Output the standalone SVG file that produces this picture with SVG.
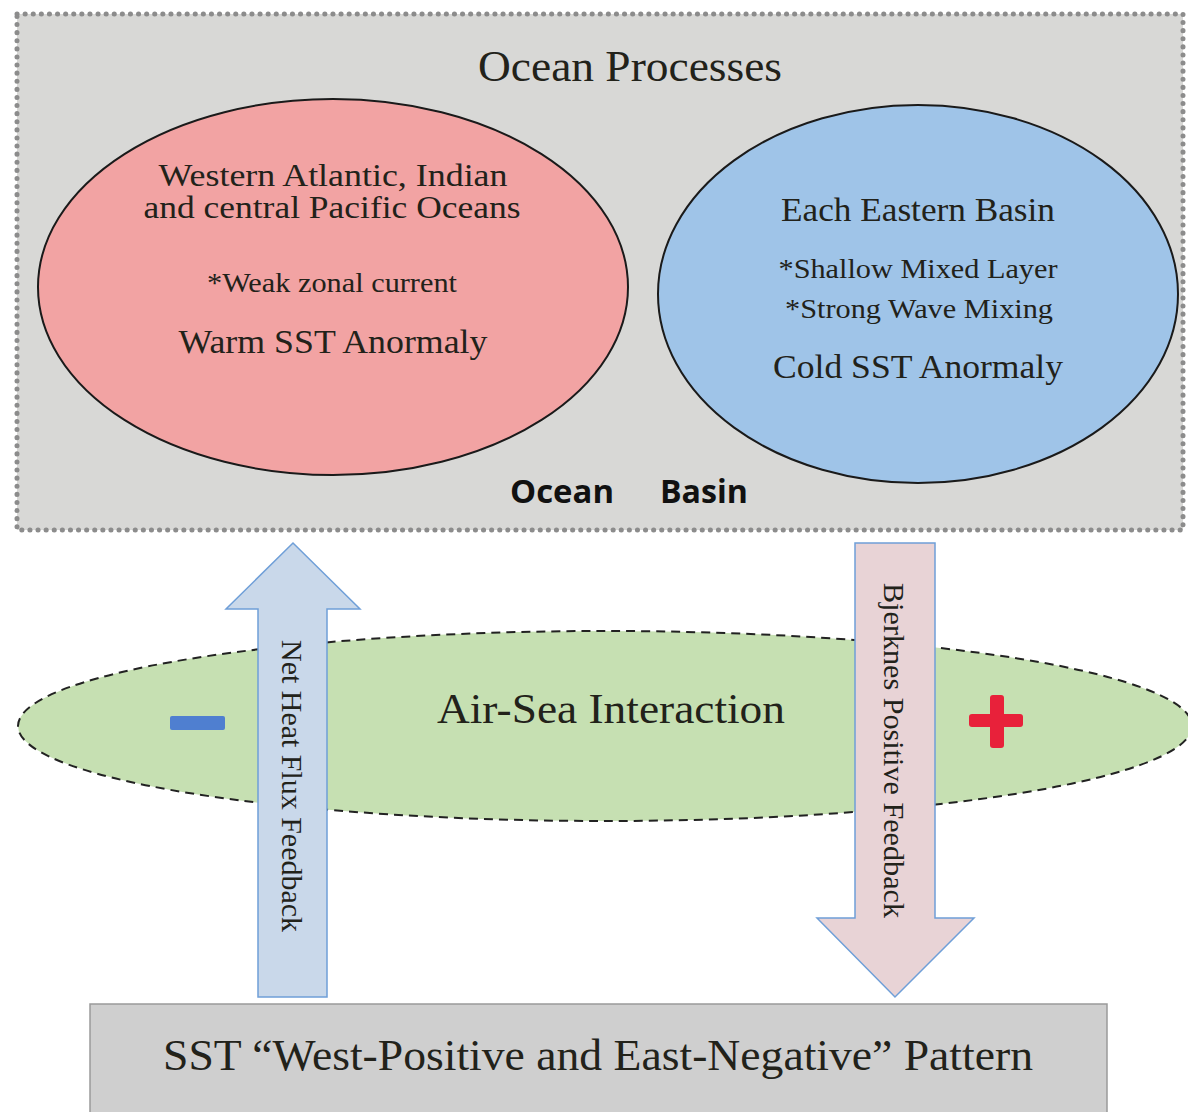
<svg xmlns="http://www.w3.org/2000/svg" width="1188" height="1112" viewBox="0 0 1188 1112">
<defs>
<style>
.serif{font-family:"Liberation Serif","Times New Roman",serif;fill:#22221a}
.ell{stroke:#1a1a1a;stroke-width:2}
.arrow{stroke:#6f9fd8;stroke-width:1.5}
.bold{font-family:"Open Sans","Liberation Sans",sans-serif;font-weight:bold;fill:#111}
</style>
</defs>
<rect width="1188" height="1112" fill="#ffffff"/>
<g id="ocean-processes">
<rect x="17" y="14" width="1166" height="516" fill="#d8d8d6" stroke="#8c8c8c" stroke-width="5" stroke-dasharray="0.1 8" stroke-linecap="round"/>
<text class="serif" x="630" y="81" font-size="44" text-anchor="middle" textLength="304" lengthAdjust="spacingAndGlyphs">Ocean Processes</text>
</g>
<g id="west-ellipse">
<ellipse class="ell" cx="333" cy="287" rx="295" ry="188" fill="#f2a3a3"/>
<text class="serif" x="333" y="186" font-size="31" text-anchor="middle" textLength="349" lengthAdjust="spacingAndGlyphs">Western Atlantic, Indian</text>
<text class="serif" x="332" y="218" font-size="31" text-anchor="middle" textLength="377" lengthAdjust="spacingAndGlyphs">and central Pacific Oceans</text>
<text class="serif" x="332" y="292" font-size="28" text-anchor="middle" textLength="250" lengthAdjust="spacingAndGlyphs">*Weak zonal current</text>
<text class="serif" x="333" y="353" font-size="34" text-anchor="middle" textLength="309" lengthAdjust="spacingAndGlyphs">Warm SST Anormaly</text>
</g>
<g id="east-ellipse">
<ellipse class="ell" cx="918" cy="294" rx="260" ry="189" fill="#9fc4e8"/>
<text class="serif" x="918" y="221" font-size="33" text-anchor="middle" textLength="274" lengthAdjust="spacingAndGlyphs">Each Eastern Basin</text>
<text class="serif" x="918" y="278" font-size="28" text-anchor="middle" textLength="279" lengthAdjust="spacingAndGlyphs">*Shallow Mixed Layer</text>
<text class="serif" x="919" y="318" font-size="28" text-anchor="middle" textLength="268" lengthAdjust="spacingAndGlyphs">*Strong Wave Mixing</text>
<text class="serif" x="918" y="378" font-size="33" text-anchor="middle" textLength="290" lengthAdjust="spacingAndGlyphs">Cold SST Anormaly</text>
</g>
<g id="ocean-basin-label">
<text class="bold" x="562" y="503" font-size="32" text-anchor="middle" textLength="104" lengthAdjust="spacingAndGlyphs">Ocean</text>
<text class="bold" x="704" y="503" font-size="32" text-anchor="middle" textLength="88" lengthAdjust="spacingAndGlyphs">Basin</text>
</g>
<g id="air-sea">
<ellipse cx="605" cy="726" rx="587" ry="95" fill="#c6e0b2" stroke="#222" stroke-width="2" stroke-dasharray="9 6"/>
<text class="serif" x="611" y="723" font-size="43" text-anchor="middle" textLength="348" lengthAdjust="spacingAndGlyphs">Air-Sea Interaction</text>
<rect x="170" y="716" width="55" height="14" rx="2" fill="#4f7fd0"/>
<rect x="969" y="714" width="54" height="13" rx="3" fill="#e8213a"/>
<rect x="990" y="695" width="14" height="53" rx="3" fill="#e8213a"/>
</g>
<g id="connectors">
<g id="net-heat-flux">
<polygon class="arrow" points="258,997 258,609 226,609 293,543 360,609 327,609 327,997" fill="#c9d8ea"/>
<text class="serif" font-size="30" transform="translate(282,640) rotate(90)" textLength="292" lengthAdjust="spacingAndGlyphs">Net Heat Flux Feedback</text>
</g>
<g id="bjerknes">
<polygon class="arrow" points="855,543 935,543 935,918 974,918 895,997 817,918 855,918" fill="#e8d3d6"/>
<text class="serif" font-size="30" transform="translate(884,583) rotate(90)" textLength="335" lengthAdjust="spacingAndGlyphs">Bjerknes Positive Feedback</text>
</g>
</g>
<g id="sst-pattern">
<rect x="90" y="1004" width="1017" height="110" fill="#cfcfcf" stroke="#9a9a9a" stroke-width="1.5"/>
<text class="serif" x="598" y="1070" font-size="44" text-anchor="middle" textLength="870" lengthAdjust="spacingAndGlyphs">SST “West-Positive and East-Negative” Pattern</text>
</g>
</svg>
